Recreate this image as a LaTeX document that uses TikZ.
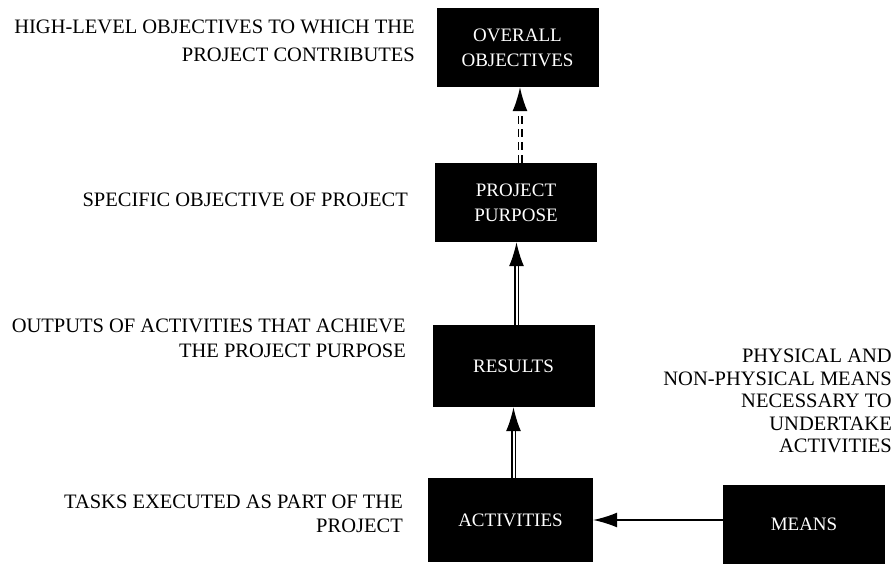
\documentclass[tikz,border=0pt]{standalone}
\usepackage{tikz}
\usepackage{fontspec}
\setmainfont{Liberation Serif}
\usetikzlibrary{arrows.meta,positioning}
\tikzset{font=\fontsize{20.5}{28}\selectfont}
\tikzset{blk/.style={fill=black, text=white, minimum width=162pt, minimum height=79pt, align=center, inner sep=2pt, font=\fontsize{19}{25}\selectfont}}
\tikzset{note/.style={anchor=east, align=right, inner sep=0pt}}
\tikzset{link/.style={double, double distance=2pt, line width=1.5pt, -{Latex[length=24pt,width=15pt]}}}

\begin{document}
\begin{tikzpicture}[x=1pt, y=-1pt]
  \useasboundingbox (0,0) rectangle (895,572);
  \node[blk] (overall) at (517.5,47.5) {OVERALL\\OBJECTIVES};
  \node[blk] (purpose) at (516,202.5) {PROJECT\\PURPOSE};
  \node[blk, minimum height=82pt] (results) at (513.5,366) {RESULTS};
  \node[blk, minimum height=84pt, minimum width=165pt] (activities) at (510.5,520) {ACTIVITIES};
  \node[blk] (means) at (804,524) {MEANS};
  \node[note] (overallnote) at (415,41) {HIGH-LEVEL OBJECTIVES TO WHICH THE\\PROJECT CONTRIBUTES};
  \node[note] (purposenote) at (408,200) {SPECIFIC OBJECTIVE OF PROJECT};
  \node[note, font=\fontsize{20.5}{25}\selectfont] (resultsnote) at (406,338) {OUTPUTS OF ACTIVITIES THAT ACHIEVE\\THE PROJECT PURPOSE};
  \node[note, font=\fontsize{20.5}{23.5}\selectfont] (activitiesnote) at (403,514) {TASKS EXECUTED AS PART OF THE\\PROJECT};
  \node[note, font=\fontsize{20.5}{22.5}\selectfont] (meansnote) at (892,401) {PHYSICAL AND\\NON-PHYSICAL MEANS\\NECESSARY TO\\UNDERTAKE\\ACTIVITIES};
  \draw[link, dash pattern=on 8pt off 5pt] ([xshift=4pt]purpose.north) -- ([xshift=4pt]purpose.north |- overall.south);
  \draw[link] ([xshift=3pt]results.north) -- ([xshift=3pt]results.north |- purpose.south);
  \draw[link] ([xshift=3pt]activities.north) -- ([xshift=3pt]activities.north |- results.south);
  \draw[line width=1.4pt, -{Latex[length=24pt,width=15pt]}] (means.west |- activities.east) -- (activities.east);
\end{tikzpicture}
\end{document}
